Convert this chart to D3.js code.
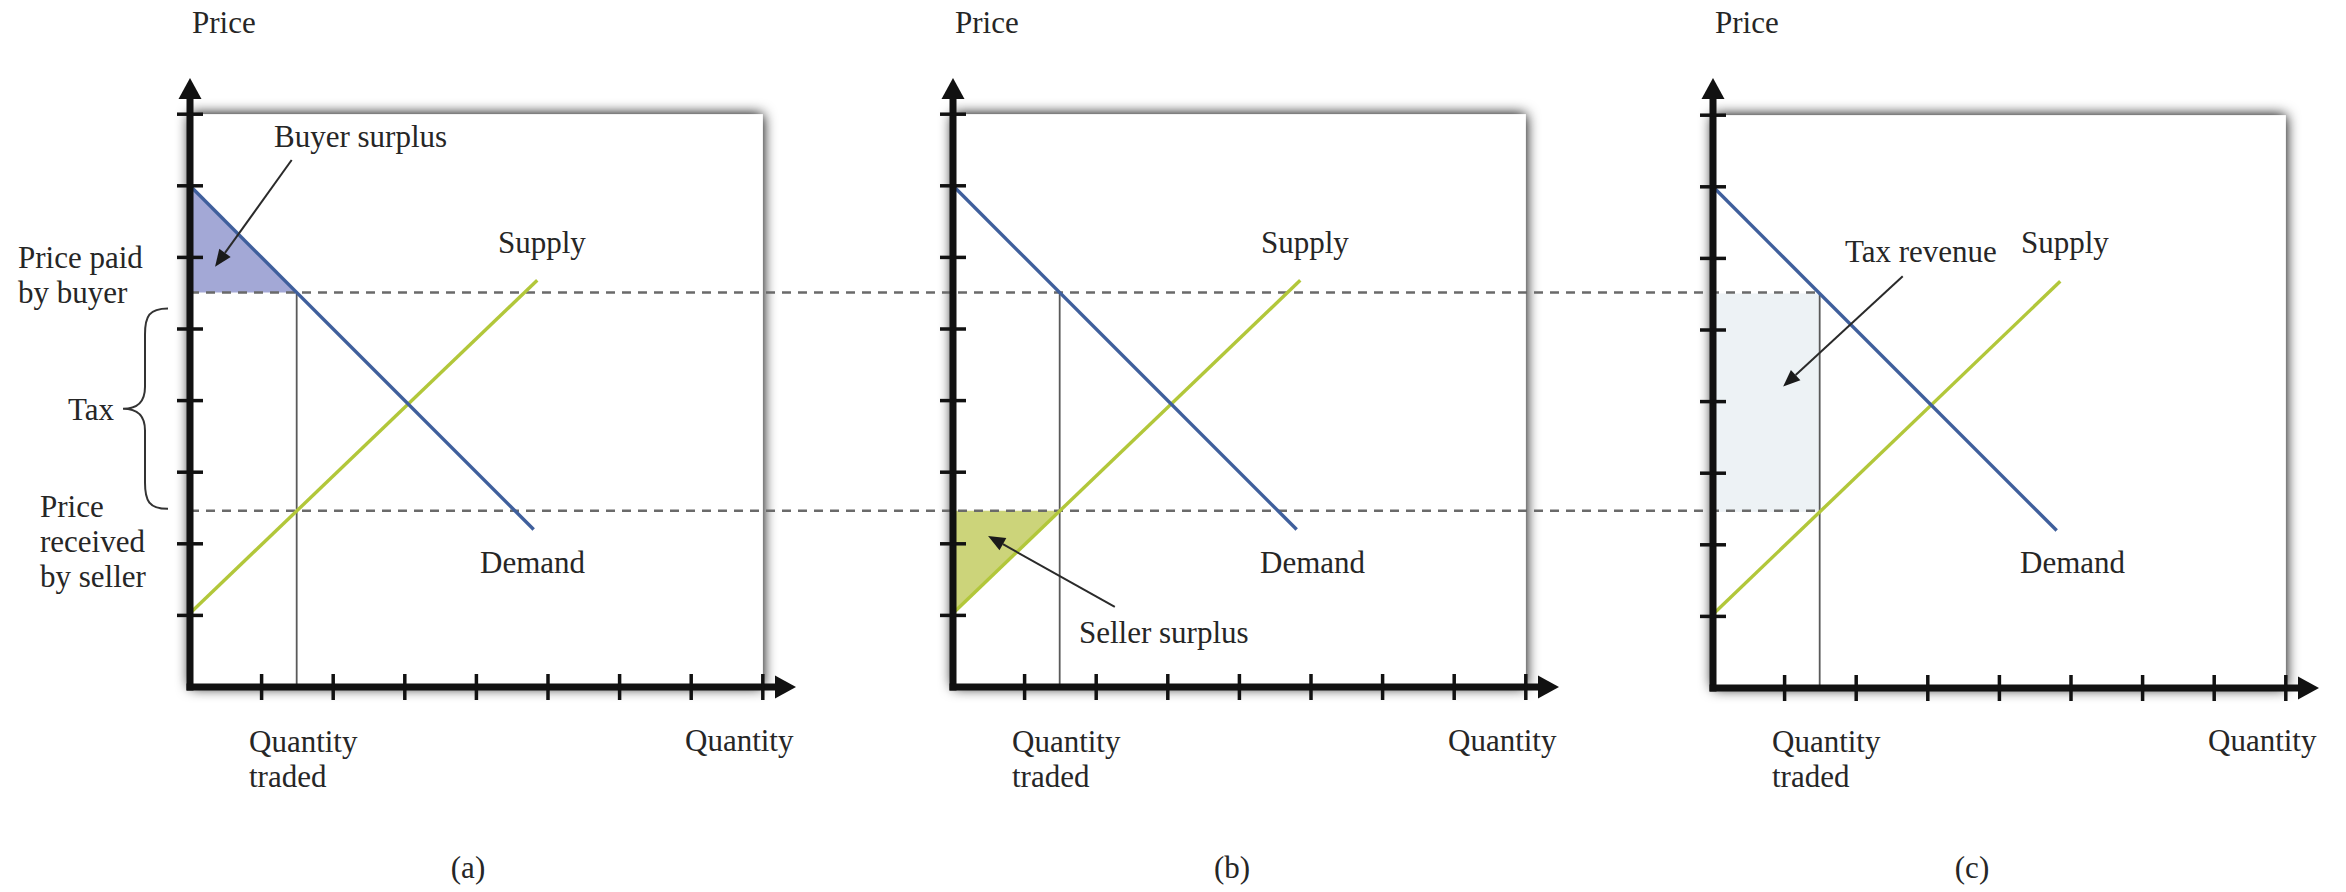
<!DOCTYPE html>
<html>
<head>
<meta charset="utf-8">
<script src="https://cdn.jsdelivr.net/npm/d3@7"></script>
<style>
  html, body { margin: 0; padding: 0; background: #ffffff; }
  svg { display: block; }
  text { font-family: "Liberation Serif", "Times New Roman", serif; font-size: 31px; fill: #262626; }
</style>
</head>
<body>
<svg id="chart" width="2346" height="892"></svg>
<script>
// ---------------- data ----------------
const panelLabels = ["(a)", "(b)", "(c)"];
const tickValues = [1, 2, 3, 4, 5, 6, 7, 8];
const demandQ = [0, 4.8];
const demandP = [7, 2.2];
const supplyQ = [0, 4.85];
const supplyP = [1.03, 5.68];
const quantityTraded = 1.49;
const priceBuyer = 5.51;
const priceSeller = 2.46;
const axisTitles = ["Price", "Quantity", "Quantity", "traded"];
const curveNames = ["Supply", "Demand"];
const areaNames = ["Buyer surplus", "Seller surplus", "Tax revenue"];
const taxLabels = ["Price paid", "by buyer", "Tax", "Price", "received", "by seller"];

// ---------------- layout ----------------
const U = 71.6;
const origins = [{x: 190, y: 687}, {x: 953, y: 687}, {x: 1713, y: 688}];
const svg = d3.select("#chart");

const defs = svg.append("defs");
const f = defs.append("filter").attr("id", "shadow")
  .attr("x", "-10%").attr("y", "-10%").attr("width", "120%").attr("height", "120%");
f.append("feGaussianBlur").attr("in", "SourceAlpha").attr("stdDeviation", 7).attr("result", "b");
f.append("feComponentTransfer").attr("in", "b").attr("result", "b2")
  .append("feFuncA").attr("type", "linear").attr("slope", 1.1);
const fm = f.append("feMerge");
fm.append("feMergeNode").attr("in", "b2");
fm.append("feMergeNode").attr("in", "SourceGraphic");

const scales = origins.map(o => ({
  x: d3.scaleLinear().domain([0, 8]).range([o.x, o.x + 8 * U]),
  y: d3.scaleLinear().domain([0, 8]).range([o.y, o.y - 8 * U])
}));

const line = (s) => d3.line().x(d => s.x(d[0])).y(d => s.y(d[1]));
const demandPts = demandQ.map((q, i) => [q, demandP[i]]);
const supplyPts = supplyQ.map((q, i) => [q, supplyP[i]]);

// frames
scales.forEach(s => {
  svg.append("rect")
    .attr("x", s.x(0)).attr("y", s.y(8))
    .attr("width", s.x(8) - s.x(0)).attr("height", s.y(0) - s.y(8))
    .attr("fill", "#ffffff").attr("filter", "url(#shadow)");
});

// filled areas
{
  const s = scales[0];
  svg.append("path")
    .attr("d", line(s)([[0, demandP[0]], [quantityTraded, priceBuyer], [0, priceBuyer]]) + "Z")
    .attr("fill", "#a3a8d6");
}
{
  const s = scales[1];
  svg.append("path")
    .attr("d", line(s)([[0, supplyP[0]], [quantityTraded, priceSeller], [0, priceSeller]]) + "Z")
    .attr("fill", "#ccd47a");
}
{
  const s = scales[2];
  svg.append("rect")
    .attr("x", s.x(0)).attr("y", s.y(priceBuyer))
    .attr("width", s.x(quantityTraded) - s.x(0))
    .attr("height", s.y(priceSeller) - s.y(priceBuyer))
    .attr("fill", "#edf2f5");
}

// dashed price lines across panels
[priceBuyer, priceSeller].forEach(p => {
  svg.append("line")
    .attr("x1", scales[0].x(0)).attr("x2", scales[2].x(quantityTraded))
    .attr("y1", scales[0].y(p)).attr("y2", scales[0].y(p))
    .attr("stroke", "#6a6a6a").attr("stroke-width", 2.5)
    .attr("stroke-dasharray", "9,7");
});

scales.forEach((s, i) => {
  const g = svg.append("g");
  // quantity traded vertical
  g.append("line")
    .attr("x1", s.x(quantityTraded)).attr("x2", s.x(quantityTraded))
    .attr("y1", s.y(priceBuyer)).attr("y2", s.y(0))
    .attr("stroke", "#5a5a5a").attr("stroke-width", 1.8);
  // supply & demand
  g.append("path").attr("d", line(s)(supplyPts))
    .attr("fill", "none").attr("stroke", "#b2c73a").attr("stroke-width", 3.4);
  g.append("path").attr("d", line(s)(demandPts))
    .attr("fill", "none").attr("stroke", "#3f5f9c").attr("stroke-width", 3.4);

  // axes
  const x0 = s.x(0), y0 = s.y(0);
  g.append("line").attr("x1", x0).attr("x2", x0).attr("y1", y0 + 3.5).attr("y2", 96)
    .attr("stroke", "#111").attr("stroke-width", 7);
  g.append("path").attr("d", `M${x0},78 L${x0 - 11.5},99 L${x0 + 11.5},99 Z`).attr("fill", "#111");
  g.append("line").attr("x1", x0 - 3.5).attr("x2", x0 + 590).attr("y1", y0).attr("y2", y0)
    .attr("stroke", "#111").attr("stroke-width", 7);
  g.append("path").attr("d", `M${x0 + 606},${y0} L${x0 + 585},${y0 - 11.5} L${x0 + 585},${y0 + 11.5} Z`).attr("fill", "#111");

  tickValues.forEach(t => {
    g.append("line").attr("x1", x0 - 13).attr("x2", x0 + 13)
      .attr("y1", s.y(t)).attr("y2", s.y(t))
      .attr("stroke", "#111").attr("stroke-width", 3.5);
    g.append("line").attr("y1", y0 - 13).attr("y2", y0 + 13)
      .attr("x1", s.x(t)).attr("x2", s.x(t))
      .attr("stroke", "#111").attr("stroke-width", 3.5);
  });

  // labels
  g.append("text").attr("x", x0 + 2).attr("y", 33).text(axisTitles[0]);
  g.append("text").attr("x", x0 + 495).attr("y", 751).text(axisTitles[1]);
  g.append("text").attr("x", x0 + 59).attr("y", 752).text(axisTitles[2]);
  g.append("text").attr("x", x0 + 59).attr("y", 787).text(axisTitles[3]);
  g.append("text").attr("x", x0 + 308).attr("y", 253).text(curveNames[0]);
  g.append("text").attr("x", x0 + (i === 0 ? 290 : 307)).attr("y", 573).text(curveNames[1]);
});

// panel captions
const capX = [468, 1232, 1972];
panelLabels.forEach((l, i) => {
  svg.append("text").attr("x", capX[i]).attr("y", 878).attr("text-anchor", "middle").text(l);
});

// annotation arrows
function arrow(s, from, to) {
  const x1 = s.x(from[0]), y1 = s.y(from[1]), x2 = s.x(to[0]), y2 = s.y(to[1]);
  const a = Math.atan2(y2 - y1, x2 - x1);
  const L = 17, Wd = 7;
  const bx = x2 - L * Math.cos(a), by = y2 - L * Math.sin(a);
  svg.append("line").attr("x1", x1).attr("y1", y1).attr("x2", bx).attr("y2", by)
    .attr("stroke", "#2a2a2a").attr("stroke-width", 2);
  const px = -Math.sin(a) * Wd, py = Math.cos(a) * Wd;
  svg.append("path").attr("d", `M${x2},${y2} L${bx + px},${by + py} L${bx - px},${by - py} Z`)
    .attr("fill", "#1a1a1a");
}
arrow(scales[0], [1.42, 7.36], [0.35, 5.87]);
arrow(scales[1], [2.26, 1.12], [0.49, 2.11]);
arrow(scales[2], [2.65, 5.75], [0.98, 4.21]);

svg.append("text").attr("x", 274).attr("y", 147).text(areaNames[0]);
svg.append("text").attr("x", 1079).attr("y", 643).text(areaNames[1]);
svg.append("text").attr("x", 1845).attr("y", 262).text(areaNames[2]);

// tax labels on the left of panel (a)
svg.append("text").attr("x", 18).attr("y", 268).text(taxLabels[0]);
svg.append("text").attr("x", 18).attr("y", 303).text(taxLabels[1]);
svg.append("text").attr("x", 68).attr("y", 420).text(taxLabels[2]);
svg.append("text").attr("x", 40).attr("y", 517).text(taxLabels[3]);
svg.append("text").attr("x", 40).attr("y", 552).text(taxLabels[4]);
svg.append("text").attr("x", 40).attr("y", 587).text(taxLabels[5]);

// curly brace
{
  const s = scales[0];
  const top = s.y(priceBuyer) + 16, bot = s.y(priceSeller) - 2, mid = (top + bot) / 2;
  const xe = 168, xb = 145, xt = 123;
  svg.append("path")
    .attr("d", `M${xe},${top} C${xb + 4},${top} ${xb},${top + 8} ${xb},${top + 26} L${xb},${mid - 22} C${xb},${mid - 6} ${xb - 8},${mid} ${xt},${mid} C${xb - 8},${mid} ${xb},${mid + 6} ${xb},${mid + 22} L${xb},${bot - 26} C${xb},${bot - 8} ${xb + 4},${bot} ${xe},${bot}`)
    .attr("fill", "none").attr("stroke", "#333").attr("stroke-width", 2);
}
</script>
</body>
</html>
